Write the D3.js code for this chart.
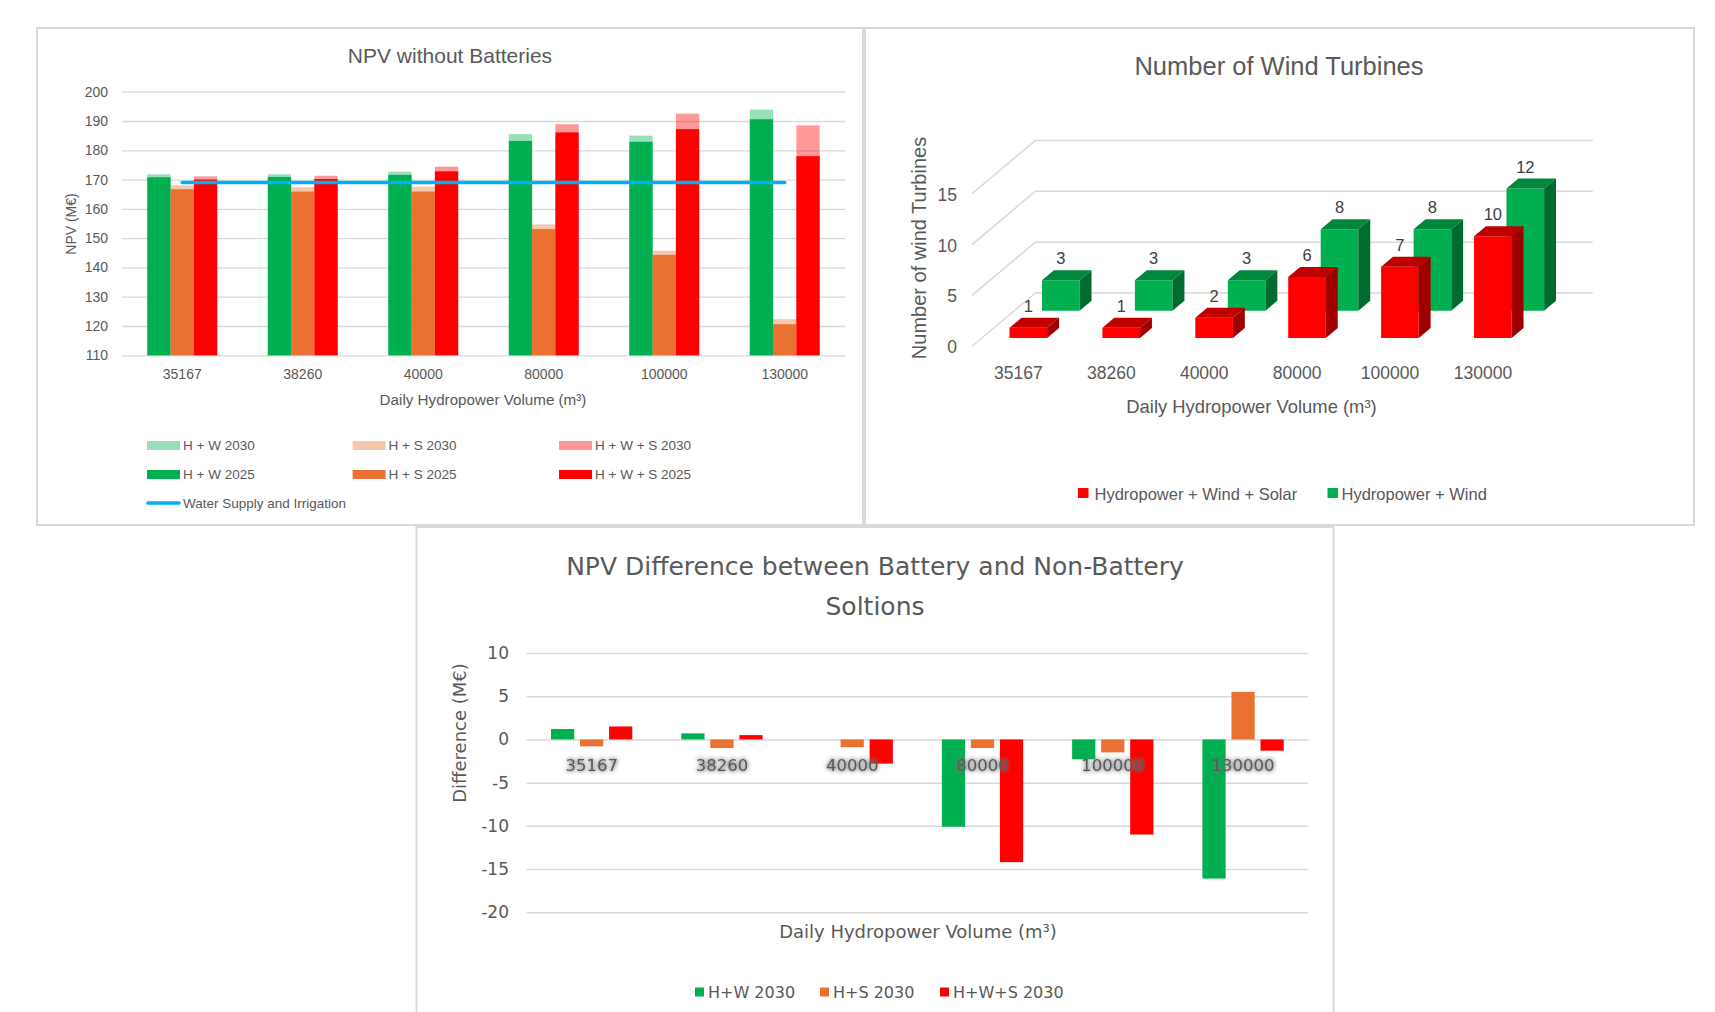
<!DOCTYPE html>
<html>
<head>
<meta charset="utf-8">
<script src="https://cdn.jsdelivr.net/npm/d3@7"></script>
<style>
  html, body { margin: 0; padding: 0; background: #ffffff; }
  svg { display: block; }
</style>
</head>
<body>
<svg id="fig" width="1715" height="1012"></svg>
<script>
// ---------- data ----------
const categories = ["35167", "38260", "40000", "80000", "100000", "130000"];

// NPV without batteries (M€)
const npvHW2025  = [170.8, 170.9, 171.6, 183.2, 182.9, 190.6];
const npvHW2030  = [171.8, 171.8, 172.7, 185.5, 185.0, 193.9];
const npvHS2025  = [166.7, 165.9, 165.9, 153.1, 144.3, 120.6];
const npvHS2030  = [168.0, 167.4, 167.6, 154.7, 145.7, 122.3];
const npvHWS2025 = [170.0, 170.2, 172.8, 186.1, 187.2, 178.0];
const npvHWS2030 = [171.1, 171.3, 174.4, 188.9, 192.5, 188.5];
const waterSupplyNPV = 169;
const npvTicks = [110, 120, 130, 140, 150, 160, 170, 180, 190, 200];

// Number of wind turbines
const turbinesHWS = [1, 1, 2, 6, 7, 10];
const turbinesHW  = [3, 3, 3, 8, 8, 12];
const turbineTicks = [0, 5, 10, 15];

// NPV difference, battery vs non-battery (M€)
const diffHW2030  = [1.2, 0.7, 0.0, -10.1, -2.3, -16.1];
const diffHS2030  = [-0.8, -1.0, -0.9, -1.0, -1.5, 5.5];
const diffHWS2030 = [1.5, 0.5, -2.8, -14.2, -11.0, -1.3];
const diffTicks = [-20, -15, -10, -5, 0, 5, 10];

// ---------- styling ----------
const GREEN = "#00B050", ORANGE = "#E97132", RED = "#FF0000", BLUE = "#00B0F0";
const TXT = "#595959", GRID = "#d9d9d9";
const SANS = "'Liberation Sans', Arial, sans-serif";
const WIDE = "'DejaVu Sans', 'Liberation Sans', sans-serif";

const svg = d3.select("#fig");

const defs = svg.append("defs");
const glow = defs.append("filter").attr("id", "labelGlow")
  .attr("x", "-30%").attr("y", "-60%").attr("width", "160%").attr("height", "220%");
glow.append("feGaussianBlur").attr("in", "SourceAlpha").attr("stdDeviation", 2).attr("result", "blur");
glow.append("feFlood").attr("flood-color", "#767676").attr("flood-opacity", 0.9).attr("result", "col");
glow.append("feComposite").attr("in", "col").attr("in2", "blur").attr("operator", "in").attr("result", "halo");
const merge = glow.append("feMerge");
merge.append("feMergeNode").attr("in", "halo");
merge.append("feMergeNode").attr("in", "halo");
merge.append("feMergeNode").attr("in", "SourceGraphic");

function frame(x, y, w, h) {
  svg.append("rect").attr("x", x).attr("y", y).attr("width", w).attr("height", h)
    .attr("fill", "#ffffff").attr("stroke", GRID).attr("stroke-width", 2);
}
function label(g, text, x, y, size, opts = {}) {
  return g.append("text").attr("x", x).attr("y", y)
    .attr("font-family", opts.family || SANS).attr("font-size", size)
    .attr("fill", opts.fill || TXT)
    .attr("text-anchor", opts.anchor || "middle")
    .attr("dominant-baseline", "central")
    .attr("transform", opts.rotate ? `rotate(-90,${x},${y})` : null)
    .text(text);
}

frame(37, 28, 826, 497);
frame(865, 28, 829, 497);
frame(416.5, 527, 917, 500);

// =====================================================================
// Panel 1: NPV without Batteries (clustered columns, 2030 behind 2025)
// =====================================================================
const p1 = svg.append("g");
const x1 = d3.scaleBand().domain(categories).range([122, 845]).paddingInner(0.42).paddingOuter(0.21);
const s1 = d3.scaleBand().domain(["HW", "HS", "HWS"]).range([0, x1.bandwidth()]);
const y1 = d3.scaleLinear().domain([110, 200]).range([355.3, 91.7]);

const yAxis1 = p1.append("g").attr("transform", "translate(122,0)")
  .call(d3.axisLeft(y1).tickValues(npvTicks).tickSize(-(845 - 122)).tickPadding(14));
yAxis1.select(".domain").remove();
yAxis1.selectAll(".tick line").attr("stroke", GRID).attr("stroke-width", 1.3);
yAxis1.selectAll(".tick text").attr("font-family", SANS).attr("font-size", 14).attr("fill", TXT);

const npvSeries = [
  { key: "HW",  v2030: npvHW2030,  v2025: npvHW2025,  color: GREEN },
  { key: "HS",  v2030: npvHS2030,  v2025: npvHS2025,  color: ORANGE },
  { key: "HWS", v2030: npvHWS2030, v2025: npvHWS2025, color: RED }
];
["v2030", "v2025"].forEach(year => {
  npvSeries.forEach(s => {
    p1.append("g").selectAll("rect").data(categories).join("rect")
      .attr("x", (c) => x1(c) + s1(s.key))
      .attr("width", s1.bandwidth())
      .attr("y", (c, i) => y1(s[year][i]))
      .attr("height", (c, i) => y1(110) - y1(s[year][i]))
      .attr("fill", s.color)
      .attr("fill-opacity", year === "v2030" ? 0.4 : 1);
  });
});

// water supply and irrigation reference line
p1.append("line")
  .attr("x1", x1(categories[0]) + x1.bandwidth() / 2)
  .attr("x2", x1(categories[categories.length - 1]) + x1.bandwidth() / 2)
  .attr("y1", y1(waterSupplyNPV)).attr("y2", y1(waterSupplyNPV))
  .attr("stroke", BLUE).attr("stroke-width", 3.6).attr("stroke-linecap", "round");

const xAxis1 = p1.append("g").attr("transform", `translate(0,${y1(110)})`)
  .call(d3.axisBottom(x1).tickSize(0));
xAxis1.select(".domain").remove();
xAxis1.selectAll(".tick text").attr("y", 19).attr("dy", null)
  .attr("dominant-baseline", "central")
  .attr("font-family", SANS).attr("font-size", 14).attr("fill", TXT);

label(p1, "NPV without Batteries", 450, 55.5, 21);
label(p1, "NPV (M€)", 71, 224, 14, { rotate: true });
label(p1, "Daily Hydropower Volume (m³)", 483, 399, 15.2);

// legend
const legend1 = [
  { text: "H + W 2030",  color: GREEN,  op: 0.4, col: 0, row: 0 },
  { text: "H + S 2030",  color: ORANGE, op: 0.4, col: 1, row: 0 },
  { text: "H + W + S 2030", color: RED, op: 0.4, col: 2, row: 0 },
  { text: "H + W 2025",  color: GREEN,  op: 1, col: 0, row: 1 },
  { text: "H + S 2025",  color: ORANGE, op: 1, col: 1, row: 1 },
  { text: "H + W + S 2025", color: RED, op: 1, col: 2, row: 1 }
];
const legCols = [147, 352.6, 559], legRows = [445.5, 474.5, 503];
legend1.forEach(d => {
  const lx = legCols[d.col], ly = legRows[d.row];
  p1.append("rect").attr("x", lx).attr("y", ly - 4.5).attr("width", 33).attr("height", 9)
    .attr("fill", d.color).attr("fill-opacity", d.op);
  label(p1, d.text, lx + 36, ly, 13.5, { anchor: "start" });
});
p1.append("line").attr("x1", 148).attr("x2", 179).attr("y1", legRows[2]).attr("y2", legRows[2])
  .attr("stroke", BLUE).attr("stroke-width", 3.6).attr("stroke-linecap", "round");
label(p1, "Water Supply and Irrigation", 183, legRows[2], 13.5, { anchor: "start" });

// =====================================================================
// Panel 2: Number of Wind Turbines (3-D columns, oblique projection)
// =====================================================================
const p2 = svg.append("g");
const x2 = d3.scaleBand().domain(categories).range([972, 1529.4]);
const y2 = d3.scaleLinear().domain([0, 15]).range([346.3, 193.7]);
const KX = 1.19;          // horizontal shift per pixel of depth
const WALL = 53.3;        // depth of the back wall
const proj = (x, v, d) => [x + KX * d, y2(v) - d];
const pt = p => p.join(",");

// side wall diagonals and back wall gridlines
turbineTicks.forEach(v => {
  const a = proj(x2.range()[0], v, 0), b = proj(x2.range()[0], v, WALL), c = proj(x2.range()[1], v, WALL);
  p2.append("polyline").attr("points", [a, b, c].map(pt).join(" "))
    .attr("fill", "none").attr("stroke", GRID).attr("stroke-width", 1.5);
  label(p2, String(v), 957, y2(v) + 1, 17.5, { anchor: "end" });
});

const barW2 = x2.bandwidth() * 0.405;
const rows3d = [
  { name: "Hydropower + Wind", values: turbinesHW, d0: 35.6, d1: 45.6,
    front: GREEN, top: "#00883D", side: "#006B2F" },
  { name: "Hydropower + Wind + Solar", values: turbinesHWS, d0: 8.3, d1: 18.3,
    front: RED, top: "#C00000", side: "#9E0000" }
];
rows3d.forEach(r => {
  categories.forEach((c, i) => {
    const v = r.values[i];
    const xl = x2(c) + x2.bandwidth() / 2 - barW2 / 2, xr = xl + barW2;
    const g = p2.append("g");
    g.append("polygon").attr("fill", r.front)
      .attr("points", [proj(xl, 0, r.d0), proj(xr, 0, r.d0), proj(xr, v, r.d0), proj(xl, v, r.d0)].map(pt).join(" "));
    g.append("polygon").attr("fill", r.top)
      .attr("points", [proj(xl, v, r.d0), proj(xr, v, r.d0), proj(xr, v, r.d1), proj(xl, v, r.d1)].map(pt).join(" "));
    g.append("polygon").attr("fill", r.side)
      .attr("points", [proj(xr, 0, r.d0), proj(xr, v, r.d0), proj(xr, v, r.d1), proj(xr, 0, r.d1)].map(pt).join(" "));
    label(p2, String(v), x2(c) + x2.bandwidth() / 2 + KX * r.d0, y2(v) - r.d1 - 12, 16.5, { fill: "#404040" });
  });
});

categories.forEach(c => label(p2, c, x2(c) + x2.bandwidth() / 2, 373, 17.5));
label(p2, "Number of Wind Turbines", 1279, 66, 25.5);
label(p2, "Number of wind Turbines", 919, 248, 20, { rotate: true });
label(p2, "Daily Hydropower Volume (m³)", 1251.5, 406.5, 18.4);

p2.append("rect").attr("x", 1078).attr("y", 488).attr("width", 10.5).attr("height", 10).attr("fill", RED);
label(p2, "Hydropower + Wind + Solar", 1094.5, 493.5, 16.5, { anchor: "start" });
p2.append("rect").attr("x", 1327.5).attr("y", 488).attr("width", 10.5).attr("height", 10).attr("fill", GREEN);
label(p2, "Hydropower + Wind", 1341.5, 493.5, 16.5, { anchor: "start" });

// =====================================================================
// Panel 3: NPV Difference between Battery and Non-Battery solutions
// =====================================================================
const p3 = svg.append("g");
const x3 = d3.scaleBand().domain(categories).range([526.5, 1308.2]).paddingInner(0.376).paddingOuter(0.188);
const s3 = d3.scaleBand().domain(["HW", "HS", "HWS"]).range([0, x3.bandwidth()]).paddingInner(0.2);
const y3 = d3.scaleLinear().domain([-20, 10]).range([912.3, 653]);

const yAxis3 = p3.append("g").attr("transform", "translate(526.5,0)")
  .call(d3.axisLeft(y3).tickValues(diffTicks).tickFormat(d => String(d))
    .tickSize(-(1308.2 - 526.5)).tickPadding(17.5));
yAxis3.select(".domain").remove();
yAxis3.selectAll(".tick line").attr("stroke", GRID).attr("stroke-width", 1.5);
yAxis3.selectAll(".tick text").attr("font-family", WIDE).attr("font-size", 17).attr("fill", TXT);

const diffSeries = [
  { key: "HW",  name: "H+W 2030",   values: diffHW2030,  color: GREEN },
  { key: "HS",  name: "H+S 2030",   values: diffHS2030,  color: ORANGE },
  { key: "HWS", name: "H+W+S 2030", values: diffHWS2030, color: RED }
];
diffSeries.forEach(s => {
  p3.append("g").selectAll("rect").data(categories).join("rect")
    .attr("x", c => x3(c) + s3(s.key))
    .attr("width", s3.bandwidth())
    .attr("y", (c, i) => Math.min(y3(s.values[i]), y3(0)))
    .attr("height", (c, i) => Math.abs(y3(s.values[i]) - y3(0)))
    .attr("fill", s.color);
});

const xAxis3 = p3.append("g").attr("transform", `translate(0,${y3(0)})`)
  .call(d3.axisBottom(x3).tickSize(0));
xAxis3.select(".domain").remove();
xAxis3.selectAll(".tick text").attr("y", 26.5).attr("dy", null)
  .attr("dominant-baseline", "central")
  .attr("font-family", WIDE).attr("font-size", 16.5).attr("fill", TXT)
  .attr("filter", "url(#labelGlow)");

label(p3, "NPV Difference between Battery and Non-Battery", 875, 566, 25, { family: WIDE });
label(p3, "Soltions", 875, 606, 25, { family: WIDE });
label(p3, "Difference (M€)", 459, 733, 18, { family: WIDE, rotate: true });
label(p3, "Daily Hydropower Volume (m³)", 918, 931, 18, { family: WIDE });

const leg3x = [695, 820, 940];
diffSeries.forEach((s, i) => {
  p3.append("rect").attr("x", leg3x[i]).attr("y", 987.5).attr("width", 9).attr("height", 9).attr("fill", s.color);
  label(p3, s.name, leg3x[i] + 13, 992, 16, { family: WIDE, anchor: "start" });
});
</script>
</body>
</html>
